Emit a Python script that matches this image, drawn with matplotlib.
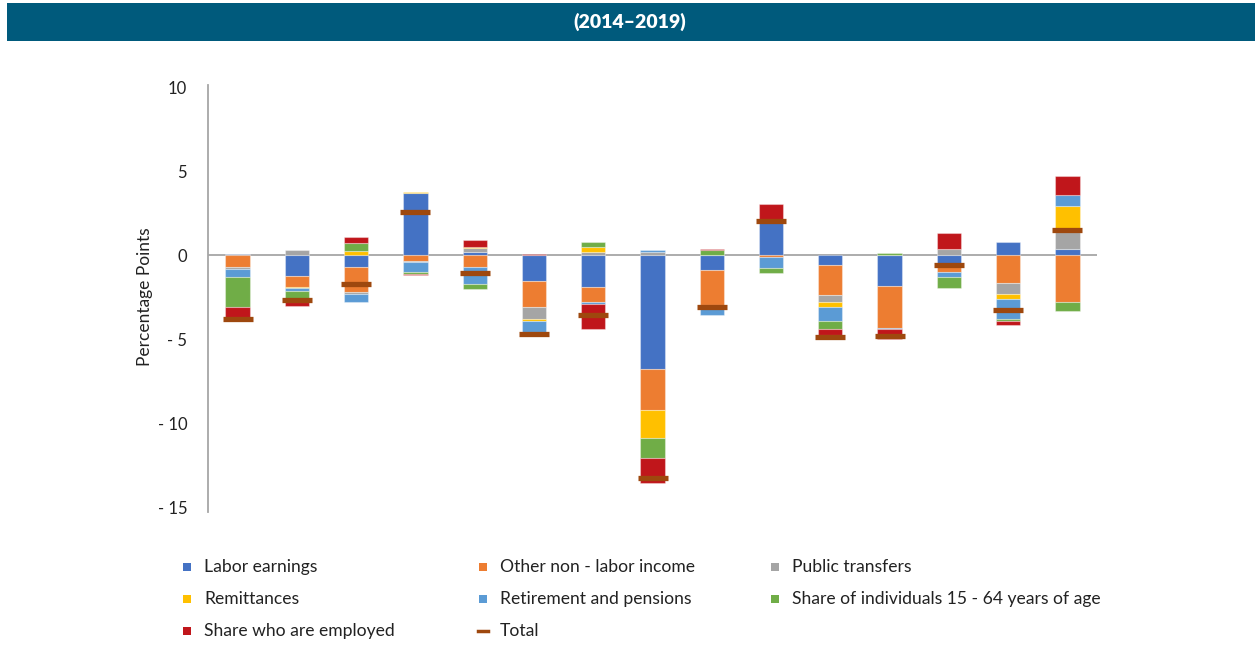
import numpy as np
import matplotlib
matplotlib.use('Agg')
import matplotlib.pyplot as plt
from matplotlib.patches import Rectangle
from matplotlib.lines import Line2D

# contributions to change, percentage points, one value per bar
labor = [0.05, -1.23, -0.73, 3.67, 0.2, -1.55, -1.92, -6.79, -0.9, 2.1, -0.6, -1.85, -0.55, 0.8, 0.34]
other = [-0.73, -0.65, -1.45, -0.34, -0.73, -1.55, -0.88, -2.44, -2.08, -0.13, -1.8, -2.48, -0.45, -1.69, -2.82]
public = [-0.1, 0.3, -0.14, -0.1, 0.24, -0.73, 0.2, 0.2, 0.0, 0.0, -0.4, 0.0, 0.34, -0.64, 1.05]
remit = [0.0, -0.1, 0.24, 0.08, 0.06, -0.12, 0.3, -1.65, 0.0, 0.0, -0.3, 0.0, 0.0, -0.3, 1.55]
retire = [-0.45, -0.18, -0.5, -0.58, -1.0, -0.63, -0.1, 0.1, -0.58, -0.65, -0.85, -0.1, -0.3, -1.19, 0.65]
share15 = [-1.8, -0.65, 0.47, -0.1, -0.3, 0.0, 0.3, -1.21, 0.28, -0.3, -0.48, 0.12, -0.65, -0.1, -0.52]
employed = [-0.8, -0.2, 0.36, -0.08, 0.38, 0.05, -1.5, -1.51, 0.08, 0.95, -0.34, -0.56, 0.95, -0.22, 1.13]
totals = [-3.8, -2.7, -1.75, 2.55, -1.1, -4.7, -3.6, -13.25, -3.1, 2.0, -4.9, -4.8, -0.62, -3.3, 1.5]

series_names = ['Labor earnings', 'Other non - labor income', 'Public transfers',
                'Remittances', 'Retirement and pensions',
                'Share of individuals 15 - 64 years of age', 'Share who are employed']
series_colors = ['#4472C4', '#ED7D31', '#A5A5A5', '#FFC000', '#5B9BD5', '#70AD47', '#C0161B']
total_color = '#9E480E'

tick_values = [10, 5, 0, -5, -10, -15]
tick_labels = ['10', '5', '0', '- 5', '- 10', '- 15']

font = 'Lato'
plt.rcParams['font.family'] = [font, 'DejaVu Sans']

fig = plt.figure(figsize=(12.55, 6.64), dpi=100)
W, H = 1255, 664

# header band
fig.add_artist(Rectangle((7 / W, 1 - 41 / H), 1 - 7 / W, 38 / H,
                         transform=fig.transFigure, color='#005A7C', lw=0))
fig.text(0.502, 1 - 22 / H, '(2014\u20132019)', color='white', fontsize=14,
         fontweight='heavy', ha='center', va='center')

ax = fig.add_axes([208 / W, 1 - 507 / H, (1097 - 208) / W, 420 / H])
x = np.arange(len(labor))
pos_base = np.zeros(len(x))
neg_base = np.zeros(len(x))
for vals, col in zip([labor, other, public, remit, retire, share15, employed], series_colors):
    v = np.array(vals)
    bottom = np.where(v >= 0, pos_base, neg_base)
    ax.bar(x, v, bottom=bottom, width=0.41, color=col,
           edgecolor=(1, 1, 1, 0.35), linewidth=0.8, zorder=2)
    pos_base += np.clip(v, 0, None)
    neg_base += np.clip(v, None, 0)

ax.plot(x, totals, linestyle='none', marker='_', markersize=21, mew=3.8,
        color=total_color, zorder=4)

ax.axhline(0, color='#A6A6A6', lw=1.3, zorder=1)
ax.set_xlim(-0.5, len(x) - 0.5)
ax.set_ylim(-15, 10)
ax.set_xticks([])
ax.set_yticks(tick_values)
ax.set_yticklabels(tick_labels, fontsize=12, color='#222222')
ax.tick_params(axis='y', length=0, pad=15)
for s in ['top', 'right', 'bottom']:
    ax.spines[s].set_visible(False)
ax.spines['left'].set_color('#A6A6A6')
ax.spines['left'].set_linewidth(1.3)
ax.spines['left'].set_bounds(-15.3, 10.1)
ax.set_ylabel('Percentage Points', fontsize=12.5, color='#222222', labelpad=3)

# legend laid out in rows of three
legend_labels = series_names + ['Total']
col_x = [187, 483, 775]
row_y = [567, 599, 631]
for i, lab in enumerate(legend_labels):
    cx = col_x[i % 3]
    cy = row_y[i // 3]
    if lab == 'Total':
        fig.add_artist(Line2D([(cx - 5) / W, (cx + 5) / W], [1 - cy / H, 1 - cy / H],
                              transform=fig.transFigure, color=total_color, lw=2.5))
    else:
        fig.add_artist(Rectangle(((cx - 4) / W, 1 - (cy + 4) / H), 8 / W, 8 / H,
                                 transform=fig.transFigure, color=series_colors[i], lw=0))
    fig.text((cx + 17) / W, 1 - cy / H, lab, fontsize=12.6, color='#222222',
             ha='left', va='center')

fig.savefig('out.png', dpi=100, facecolor='white')
